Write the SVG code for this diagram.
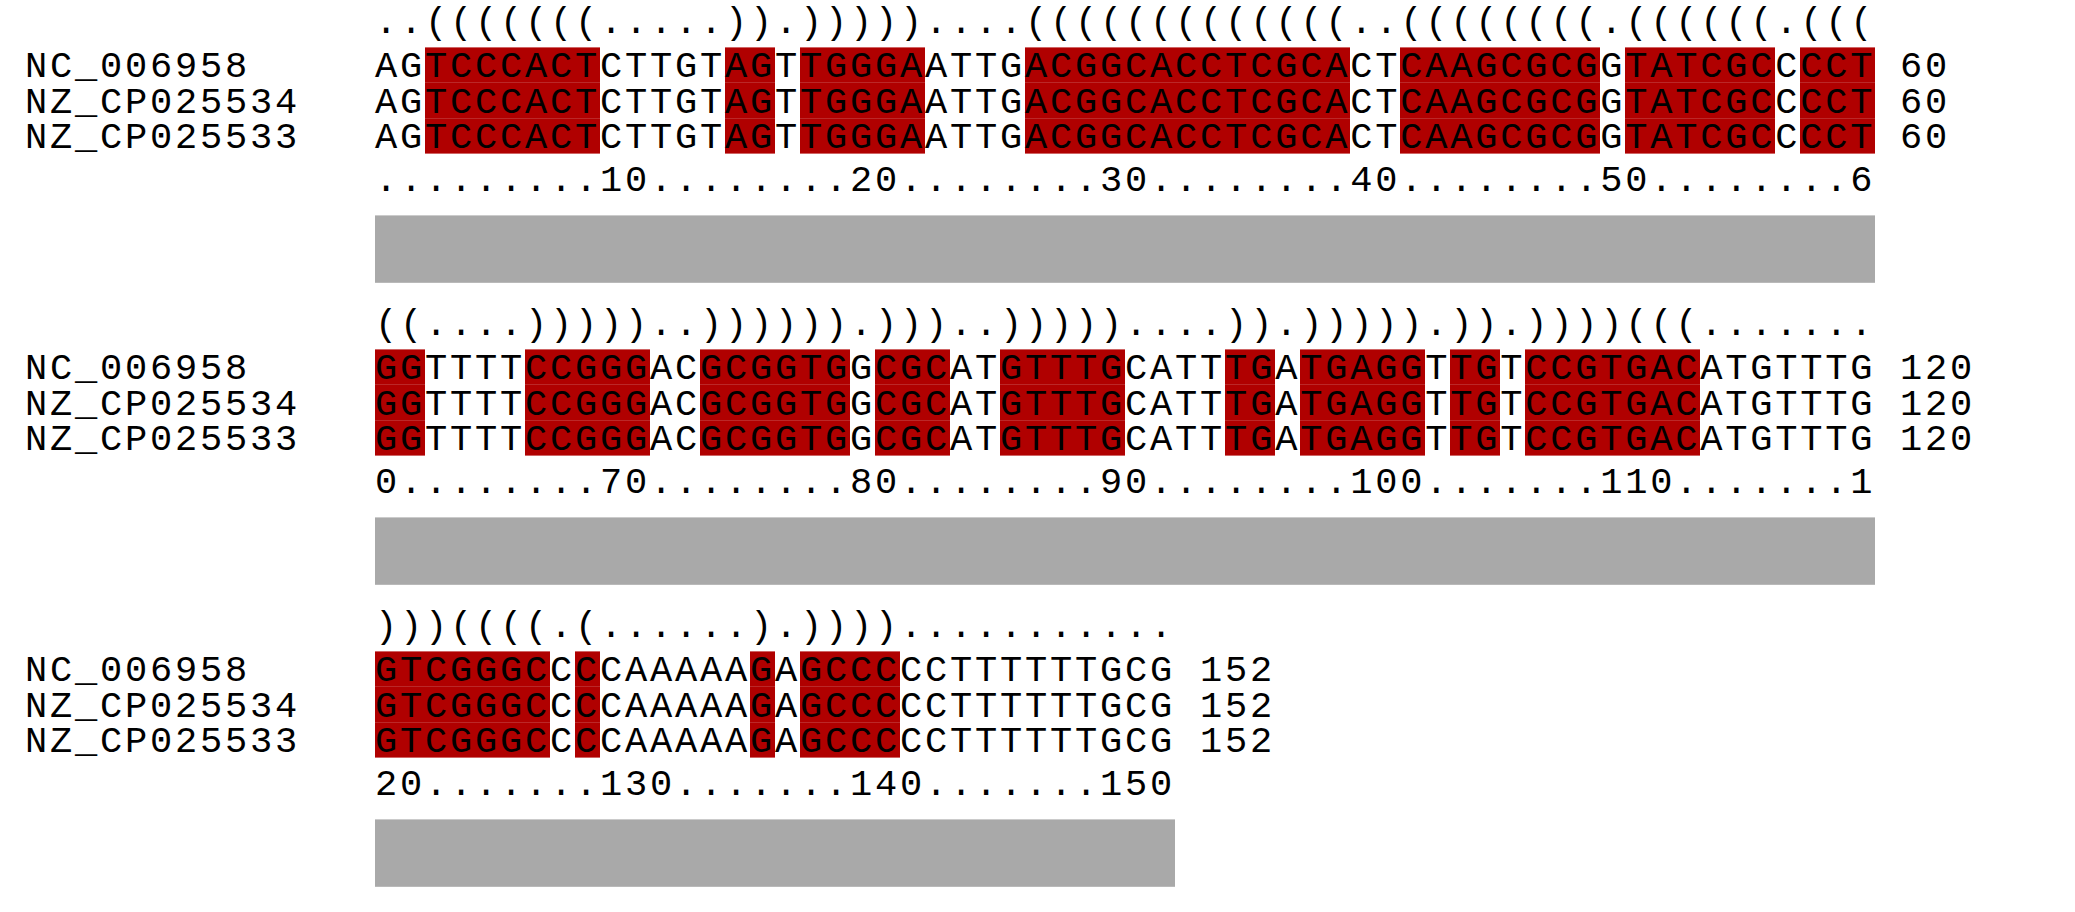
<svg xmlns="http://www.w3.org/2000/svg" width="2075" height="912" viewBox="0 0 2075 912">
<style>
.t{font-family:"Liberation Mono","DejaVu Sans Mono",monospace;font-size:37px;letter-spacing:2.8px;fill:#000}
.r{fill:#b00000}
.g{fill:#a9a9a9}
</style>
<rect width="2075" height="912" fill="#fff"/>
<defs>
<g id="rows1">
<rect class="r" x="425" y="0" width="175" height="35.4"/>
<rect class="r" x="725" y="0" width="50" height="35.4"/>
<rect class="r" x="800" y="0" width="125" height="35.4"/>
<rect class="r" x="1025" y="0" width="325" height="35.4"/>
<rect class="r" x="1400" y="0" width="200" height="35.4"/>
<rect class="r" x="1625" y="0" width="150" height="35.4"/>
<rect class="r" x="1800" y="0" width="75" height="35.4"/>
</g>
<g id="rows2">
<rect class="r" x="375" y="0" width="50" height="35.4"/>
<rect class="r" x="525" y="0" width="125" height="35.4"/>
<rect class="r" x="700" y="0" width="150" height="35.4"/>
<rect class="r" x="875" y="0" width="75" height="35.4"/>
<rect class="r" x="1000" y="0" width="125" height="35.4"/>
<rect class="r" x="1225" y="0" width="50" height="35.4"/>
<rect class="r" x="1300" y="0" width="125" height="35.4"/>
<rect class="r" x="1450" y="0" width="50" height="35.4"/>
<rect class="r" x="1525" y="0" width="175" height="35.4"/>
</g>
<g id="rows3">
<rect class="r" x="375" y="0" width="175" height="35.4"/>
<rect class="r" x="575" y="0" width="25" height="35.4"/>
<rect class="r" x="750" y="0" width="25" height="35.4"/>
<rect class="r" x="800" y="0" width="100" height="35.4"/>
</g>
</defs>

<g id="block1">
<use href="#rows1" y="47.4"/>
<use href="#rows1" y="82.8"/>
<use href="#rows1" y="118.2"/>
<text class="t" x="375" y="33">..(((((((.....)).)))))....(((((((((((((..((((((((.((((((.(((</text>
<text class="t" x="25" y="77.3">NC_006958</text>
<text class="t" x="25" y="112.8">NZ_CP025534</text>
<text class="t" x="25" y="148.3">NZ_CP025533</text>
<text class="t" x="375" y="77.3">AGTCCCACTCTTGTAGTTGGGAATTGACGGCACCTCGCACTCAAGCGCGGTATCGCCCCT</text>
<text class="t" x="375" y="112.8">AGTCCCACTCTTGTAGTTGGGAATTGACGGCACCTCGCACTCAAGCGCGGTATCGCCCCT</text>
<text class="t" x="375" y="148.3">AGTCCCACTCTTGTAGTTGGGAATTGACGGCACCTCGCACTCAAGCGCGGTATCGCCCCT</text>
<text class="t" x="1900" y="77.3">60</text>
<text class="t" x="1900" y="112.8">60</text>
<text class="t" x="1900" y="148.3">60</text>
<text class="t" x="375" y="191">.........10........20........30........40........50........6</text>
<rect class="g" x="375" y="215.4" width="1500" height="67.4"/>
</g>

<g id="block2">
<use href="#rows2" y="349.4"/>
<use href="#rows2" y="384.8"/>
<use href="#rows2" y="420.2"/>
<text class="t" x="375" y="335">((....)))))..)))))).)))..)))))....)).))))).)).))))(((.......</text>
<text class="t" x="25" y="379.3">NC_006958</text>
<text class="t" x="25" y="414.8">NZ_CP025534</text>
<text class="t" x="25" y="450.3">NZ_CP025533</text>
<text class="t" x="375" y="379.3">GGTTTTCCGGGACGCGGTGGCGCATGTTTGCATTTGATGAGGTTGTCCGTGACATGTTTG</text>
<text class="t" x="375" y="414.8">GGTTTTCCGGGACGCGGTGGCGCATGTTTGCATTTGATGAGGTTGTCCGTGACATGTTTG</text>
<text class="t" x="375" y="450.3">GGTTTTCCGGGACGCGGTGGCGCATGTTTGCATTTGATGAGGTTGTCCGTGACATGTTTG</text>
<text class="t" x="1900" y="379.3">120</text>
<text class="t" x="1900" y="414.8">120</text>
<text class="t" x="1900" y="450.3">120</text>
<text class="t" x="375" y="493">0........70........80........90........100.......110.......1</text>
<rect class="g" x="375" y="517.4" width="1500" height="67.4"/>
</g>

<g id="block3">
<use href="#rows3" y="651.4"/>
<use href="#rows3" y="686.8"/>
<use href="#rows3" y="722.2"/>
<text class="t" x="375" y="637">)))((((.(......).))))...........</text>
<text class="t" x="25" y="681.3">NC_006958</text>
<text class="t" x="25" y="716.8">NZ_CP025534</text>
<text class="t" x="25" y="752.3">NZ_CP025533</text>
<text class="t" x="375" y="681.3">GTCGGGCCCCAAAAAGAGCCCCCTTTTTTGCG</text>
<text class="t" x="375" y="716.8">GTCGGGCCCCAAAAAGAGCCCCCTTTTTTGCG</text>
<text class="t" x="375" y="752.3">GTCGGGCCCCAAAAAGAGCCCCCTTTTTTGCG</text>
<text class="t" x="1200" y="681.3">152</text>
<text class="t" x="1200" y="716.8">152</text>
<text class="t" x="1200" y="752.3">152</text>
<text class="t" x="375" y="795">20.......130.......140.......150</text>
<rect class="g" x="375" y="819.4" width="800" height="67.4"/>
</g>
</svg>
